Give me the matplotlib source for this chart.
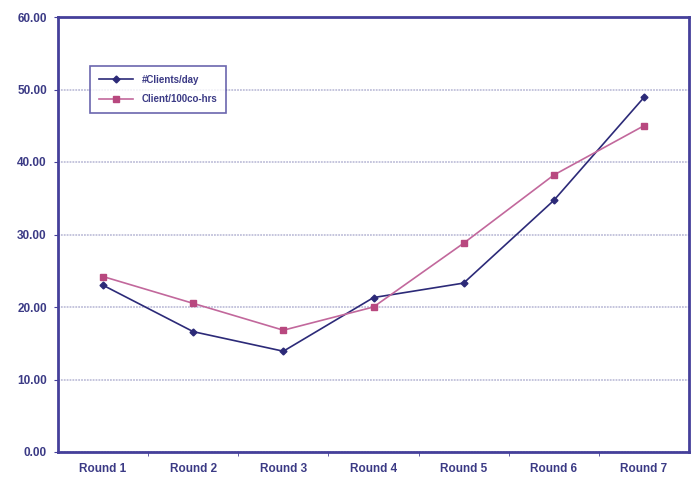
import matplotlib
matplotlib.use("Agg")
import matplotlib.pyplot as plt
import numpy as np

categories = ["Round 1", "Round 2", "Round 3", "Round 4", "Round 5", "Round 6", "Round 7"]
clients_per_day = [23.0, 16.6, 13.9, 21.3, 23.3, 34.7, 48.9]
client_per_100co_hrs = [24.2, 20.5, 16.8, 20.0, 28.8, 38.2, 45.0]
y_ticks = [0, 10, 20, 30, 40, 50, 60]

plt.rcParams['font.family'] = ['Liberation Sans', 'DejaVu Sans']
navy = "#45409a"
text_c = "#3b3a85"

fig = plt.figure(figsize=(6.92, 4.79), dpi=100)
ax = fig.add_axes([58 / 692, 1 - 452 / 479, (689 - 58) / 692, (452 - 17) / 479])

x = np.arange(len(categories))
ax.plot(x, clients_per_day, color="#2c2a78", lw=1.2, marker="D", ms=3.5,
        label="#Clients/day", zorder=3)
ax.plot(x, client_per_100co_hrs, color="#c2689c", lw=1.2, marker="s", ms=4,
        mfc="#b8487f", mec="#b8487f", label="Client/100co-hrs", zorder=3)

ax.set_xlim(-0.5, len(categories) - 0.5)
ax.set_ylim(0, 60)
ax.set_yticks(y_ticks)
ax.set_yticklabels([f"{v:.2f}" for v in y_ticks])
ax.set_xticks(x)
ax.set_xticklabels(categories)
ax.set_xticks(np.arange(0.5, len(categories) - 1, 1), minor=True)
ax.tick_params(axis="x", which="major", length=0, pad=8, labelsize=8.5, labelcolor=text_c)
ax.tick_params(axis="x", which="minor", length=3, color=navy, direction="out")
ax.tick_params(axis="y", length=3, color=navy, labelsize=8.5, labelcolor=text_c, pad=5)
for lab in ax.get_xticklabels() + ax.get_yticklabels():
    lab.set_fontweight("bold")

ax.yaxis.grid(True, color="#c0c0da", lw=1.3, ls=(0, (1, 0.6)))
ax.set_axisbelow(True)
for s in ax.spines.values():
    s.set_color(navy)
    s.set_linewidth(2)

leg = ax.legend(loc="upper left", bbox_to_anchor=((90 - 58) / 631, 1 - (66 - 17) / 435),
                fontsize=7, frameon=True, fancybox=False, borderpad=0.9,
                handlelength=3.5, handletextpad=0.9, labelspacing=1.0,
                labelcolor=text_c, borderaxespad=0)
leg.get_frame().set_edgecolor(navy)
leg.get_frame().set_linewidth(1.2)
for t in leg.get_texts():
    t.set_fontweight("bold")

fig.savefig("out.png", dpi=100)
